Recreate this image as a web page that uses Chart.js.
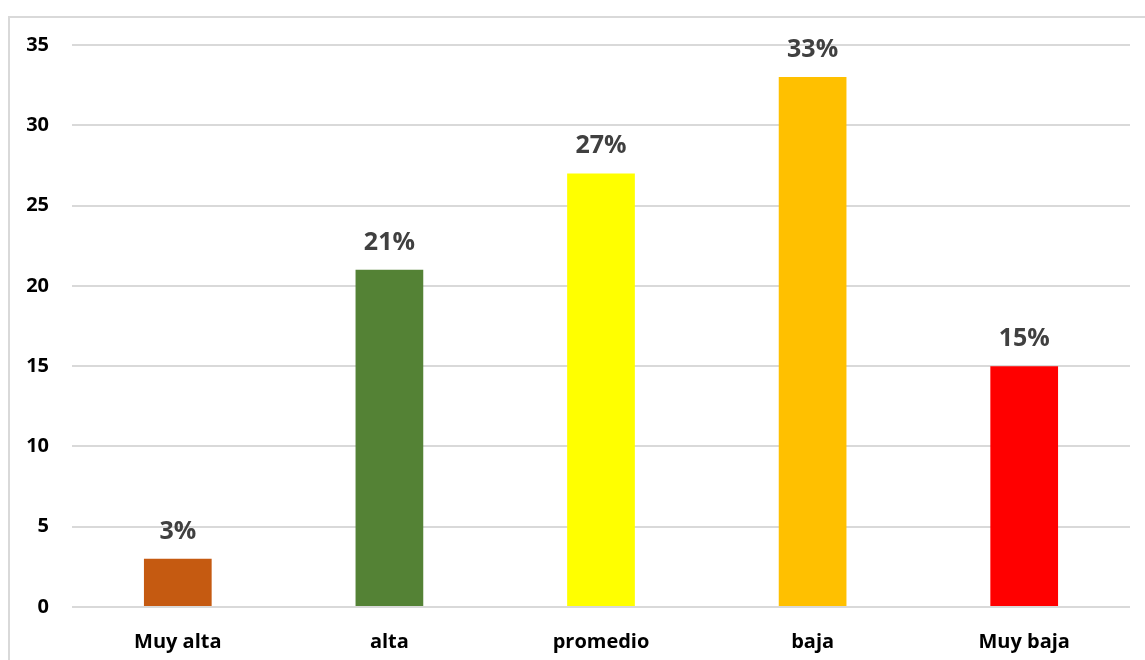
<!DOCTYPE html>
<html>
<head>
<meta charset="utf-8">
<script src="https://cdn.jsdelivr.net/npm/chart.js@4/dist/chart.umd.min.js"></script>
<style>
  html, body { margin: 0; padding: 0; background: #fff; overflow: hidden; }
  #wrap { position: relative; width: 1145px; height: 660px; }
  #frame { position: absolute; left: 8px; top: 16px; width: 1150px; height: 660px;
           border: 2px solid #d9d9d9; box-sizing: border-box; }
  canvas { position: absolute; left: 0; top: 0; }
</style>
</head>
<body>
<div id="wrap">
  <div id="frame"></div>
  <canvas id="nivelChart" width="1145" height="660"></canvas>
</div>
<script>
// datos
const categorias = ['Muy alta', 'alta', 'promedio', 'baja', 'Muy baja'];
const valores = [3, 21, 27, 33, 15];
const colores = ['#C55A11', '#548235', '#FFFF00', '#FFC000', '#FF0000'];

const FONT = '"Open Sans", "Noto Sans", sans-serif';

// etiqueta de porcentaje encima de cada barra
const etiquetas = {
    id: 'etiquetas',
    afterDatasetsDraw(chart) {
        const ctx = chart.ctx;
        const meta = chart.getDatasetMeta(0);
        ctx.save();
        ctx.font = 'bold 25px ' + FONT;
        ctx.fillStyle = '#404040';
        ctx.textAlign = 'center';
        ctx.textBaseline = 'alphabetic';
        meta.data.forEach(function(bar, i) {
            ctx.fillText(valores[i] + '%', bar.x, bar.y - 20);
        });
        ctx.restore();
    }
};

document.addEventListener('DOMContentLoaded', function() {
    const ctx = document.getElementById('nivelChart').getContext('2d');
    new Chart(ctx, {
        type: 'bar',
        data: {
            labels: categorias,
            datasets: [{
                data: valores,
                backgroundColor: colores,
                barPercentage: 0.64,
                categoryPercentage: 0.5
            }]
        },
        options: {
            responsive: false,
            animation: false,
            layout: { padding: { top: 45, right: 15, left: 0, bottom: 0 } },
            plugins: {
                legend: { display: false },
                tooltip: { enabled: false }
            },
            scales: {
                x: {
                    grid: { display: false },
                    border: { display: false },
                    ticks: {
                        color: '#000',
                        padding: 15,
                        font: { family: FONT, size: 20, weight: 'bold' }
                    },
                    afterFit(scale) { scale.height = 53; }
                },
                y: {
                    min: 0,
                    max: 35,
                    ticks: {
                        stepSize: 5,
                        color: '#000',
                        padding: 23,
                        font: { family: FONT, size: 20, weight: 'bold' }
                    },
                    grid: { color: '#d9d9d9', lineWidth: 2, drawTicks: false },
                    border: { display: false },
                    afterFit(scale) { scale.width = 72; }
                }
            }
        },
        plugins: [etiquetas]
    });
});
</script>
</body>
</html>
